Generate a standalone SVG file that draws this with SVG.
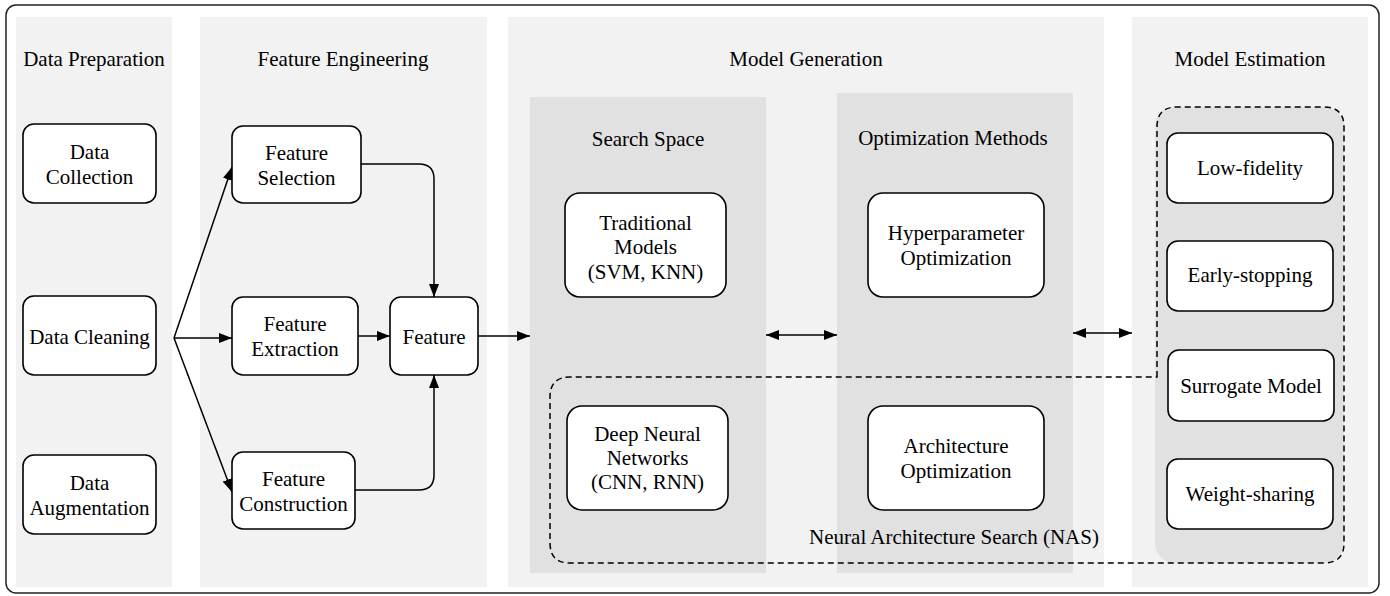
<svg xmlns="http://www.w3.org/2000/svg" width="1390" height="596" viewBox="0 0 1390 596" font-family="'Liberation Serif', 'Times New Roman', Tinos, 'DejaVu Serif', serif">
<style>
text{font-family:"Liberation Serif","Times New Roman",Tinos,serif;font-size:21px;fill:#000;text-anchor:middle}
.panel{fill:#f2f2f2;stroke:none}
.sub{fill:#e1e1e1;stroke:none}
.node rect{fill:#fff;stroke:#000;stroke-width:1.6}
.edge{fill:none;stroke:#000;stroke-width:1.5}
.dash{fill:none;stroke:#000;stroke-width:1.5;stroke-dasharray:6 4}
</style>
<defs>
<marker id="arr" viewBox="0 0 13 10" refX="13" refY="5" markerWidth="13" markerHeight="10" markerUnits="userSpaceOnUse" orient="auto-start-reverse">
<path d="M0,0 L13,5 L0,10 z" fill="#000"/>
</marker>
</defs>
<rect x="6" y="5" width="1373" height="588" rx="10" fill="#fff" stroke="#222" stroke-width="1.5"/>
<g id="panels">
<rect class="panel" x="16" y="17" width="156" height="570"/>
<rect class="panel" x="200" y="17" width="287" height="570"/>
<rect class="panel" x="508" y="17" width="596" height="570"/>
<rect class="panel" x="1132" y="17" width="236" height="570"/>
<rect class="sub" x="530" y="97" width="236" height="476"/>
<rect class="sub" x="837" y="93" width="236" height="480"/>
<rect class="sub" x="1155" y="107" width="189" height="456" rx="20"/>
<text x="94" y="66">Data Preparation</text>
<text x="343" y="66">Feature Engineering</text>
<text x="806" y="66">Model Generation</text>
<text x="1250" y="66">Model Estimation</text>
<text x="648" y="146">Search Space</text>
<text x="953" y="144.5">Optimization Methods</text>
</g>
<g id="groups">
<path class="dash" d="M1157,377 V127 Q1157,107 1177,107 H1324 Q1344,107 1344,127 V543 Q1344,563 1324,563 H570 Q550,563 550,543 V397 Q550,377 570,377 Z"/>
<text x="954" y="544">Neural Architecture Search (NAS)</text>
</g>
<g id="connectors">
<path class="edge" d="M174,338 L232,167" marker-end="url(#arr)"/>
<path class="edge" d="M174,338 H232" marker-end="url(#arr)"/>
<path class="edge" d="M174,338 L232,492" marker-end="url(#arr)"/>
<path class="edge" d="M361,164 H419 Q434,164 434,179 V297" marker-end="url(#arr)"/>
<path class="edge" d="M355,490 H419 Q434,490 434,475 V375" marker-end="url(#arr)"/>
<path class="edge" d="M358,336 H390" marker-end="url(#arr)"/>
<path class="edge" d="M478,336 H530" marker-end="url(#arr)"/>
<path class="edge" d="M766,335 H837" marker-start="url(#arr)" marker-end="url(#arr)"/>
<path class="edge" d="M1073,333 H1132" marker-start="url(#arr)" marker-end="url(#arr)"/>
</g>
<g id="n-data-collection" class="node"><rect x="23" y="124" width="133" height="79" rx="11"/><text x="89.5" y="159">Data</text><text x="89.5" y="184">Collection</text></g>
<g id="n-data-cleaning" class="node"><rect x="23" y="296" width="133" height="79" rx="11"/><text x="89.5" y="344">Data Cleaning</text></g>
<g id="n-data-augmentation" class="node"><rect x="23" y="455" width="133" height="79" rx="11"/><text x="89.5" y="489.5">Data</text><text x="89.5" y="514.5">Augmentation</text></g>
<g id="n-feature-selection" class="node"><rect x="232" y="126" width="129" height="77" rx="11"/><text x="296.5" y="159.5">Feature</text><text x="296.5" y="184.5">Selection</text></g>
<g id="n-feature-extraction" class="node"><rect x="232" y="297" width="126" height="78" rx="11"/><text x="295" y="331">Feature</text><text x="295" y="356">Extraction</text></g>
<g id="n-feature-construction" class="node"><rect x="232" y="452" width="123" height="77" rx="11"/><text x="293.5" y="486">Feature</text><text x="293.5" y="511">Construction</text></g>
<g id="n-feature" class="node"><rect x="390" y="297" width="88" height="78" rx="11"/><text x="434" y="344">Feature</text></g>
<g id="n-traditional" class="node"><rect x="565" y="193" width="161" height="104" rx="15"/><text x="645.5" y="229.5">Traditional</text><text x="645.5" y="254">Models</text><text x="645.5" y="278.5">(SVM, KNN)</text></g>
<g id="n-hpo" class="node"><rect x="868" y="193" width="176" height="104" rx="15"/><text x="956" y="240">Hyperparameter</text><text x="956" y="265">Optimization</text></g>
<g id="n-dnn" class="node"><rect x="567" y="406" width="161" height="104" rx="15"/><text x="647.5" y="441">Deep Neural</text><text x="647.5" y="465">Networks</text><text x="647.5" y="489">(CNN, RNN)</text></g>
<g id="n-ao" class="node"><rect x="868" y="406" width="176" height="104" rx="15"/><text x="956" y="453">Architecture</text><text x="956" y="478">Optimization</text></g>
<g id="n-low-fidelity" class="node"><rect x="1167" y="133" width="166" height="70" rx="11"/><text x="1250" y="175">Low-fidelity</text></g>
<g id="n-early-stopping" class="node"><rect x="1167" y="241" width="166" height="70" rx="11"/><text x="1250" y="282">Early-stopping</text></g>
<g id="n-surrogate" class="node"><rect x="1168" y="350" width="166" height="71" rx="11"/><text x="1251" y="393">Surrogate Model</text></g>
<g id="n-weight-sharing" class="node"><rect x="1167" y="459" width="166" height="70" rx="11"/><text x="1250" y="500.5">Weight-sharing</text></g>
</svg>
